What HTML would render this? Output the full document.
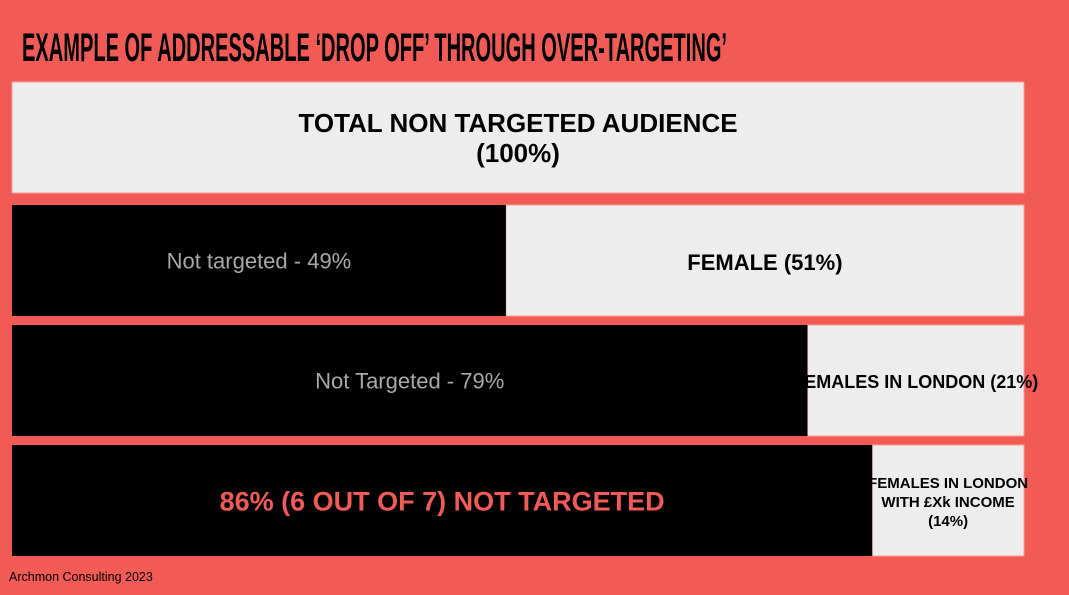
<!DOCTYPE html>
<html><head><meta charset="utf-8"><style>
html,body{margin:0;padding:0;background:#f25a55;}
svg{display:block}
.c{font-family:"Liberation Sans Narrow","Liberation Sans",sans-serif;}
</style></head><body>
<svg id="chart" width="1069" height="595" viewBox="0 0 1069 595" xmlns="http://www.w3.org/2000/svg">
<rect width="1069" height="595" fill="#f25a55"/>
<text class="c" x="22" y="61" font-size="40" font-weight="bold" textLength="705" lengthAdjust="spacingAndGlyphs" fill="#000">EXAMPLE OF ADDRESSABLE ‘DROP OFF’ THROUGH OVER-TARGETING’</text>
<g id="rows"></g>
<text x="9" y="581" font-family="Liberation Sans, sans-serif" font-size="12.5" fill="#000">Archmon Consulting 2023</text>
</svg>
<script>
const rowLabels = ["Total", "Female", "Females in London", "Females in London with £Xk income"];
const notTargetedPct = [0, 48.8, 78.6, 85.0];
const notTargetedText = ["", "Not targeted - 49%", "Not Targeted - 79%", "86% (6 OUT OF 7)  NOT TARGETED"];
const targetedText = [["TOTAL NON TARGETED AUDIENCE","(100%)"], ["FEMALE (51%)"], ["FEMALES IN LONDON (21%)"], ["FEMALES IN LONDON","WITH £Xk INCOME","(14%)"]];

const X0 = 12, W = 1012;
const rowTops = [82, 205, 325, 445];
const rowH = 111;
const xScale = p => X0 + p / 100 * W;
const NS = "http://www.w3.org/2000/svg";
const g = document.getElementById("rows");
function mk(tag, attrs){const e=document.createElementNS(NS,tag);for(const k in attrs)e.setAttribute(k,attrs[k]);return e;}

rowLabels.forEach((lab, i) => {
  const y = rowTops[i];
  const xs = xScale(notTargetedPct[i]);
  const light = mk("rect",{x:xs,y:y,width:X0+W-xs,height:rowH,fill:"#ededed",stroke:"#f7a09c","stroke-width":1});
  
  
  g.appendChild(light);
  if (notTargetedPct[i] > 0) {
    const dark = mk("rect",{x:X0,y:y,width:xs-X0,height:rowH,fill:"#000"});
    
    
    g.appendChild(dark);
    const isLast = i === rowLabels.length - 1;
    const t = mk("text",{x:(X0+xs)/2,y:y+rowH/2+(isLast?10:8),"text-anchor":"middle","class":"c",
      "font-size":isLast?27:22,"font-weight":isLast?"bold":"normal",fill:isLast?"#f25a55":"#a8a8a8"});
    t.textContent = notTargetedText[i];
    
    
    g.appendChild(t);
  }
  const lines = targetedText[i];
  const cx = (xs + X0 + W) / 2;
  let fs, lh, base;
  if (i === 0) { fs = 26; lh = 30; base = y + 50; }
  else if (i === 1) { fs = 22; lh = 0; base = y + 65; }
  else if (i === 2) { fs = 18; lh = 0; base = y + 63; }
  else { fs = 15; lh = 19; base = y + 43; }
  lines.forEach((ln, j) => {
    const t = mk("text",{x:cx,y:base+j*lh,"text-anchor":"middle","class":"c","font-size":fs,"font-weight":"bold",fill:"#000"});
    t.textContent = ln;
    
    
    g.appendChild(t);
  });
});
</script>
</body></html>
